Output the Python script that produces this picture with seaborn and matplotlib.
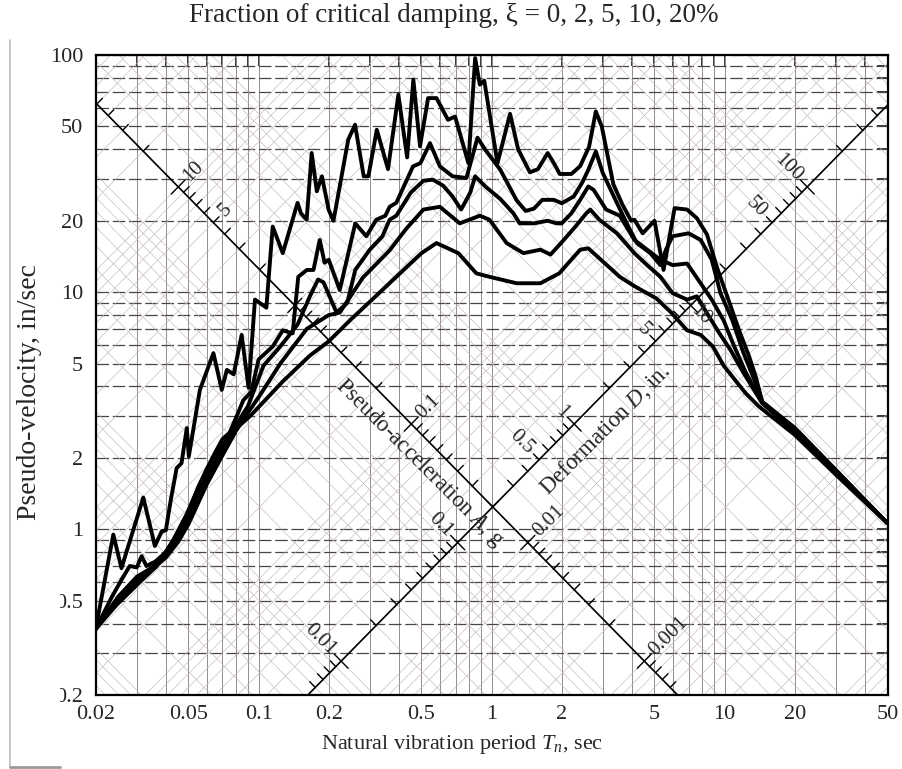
import numpy as np
import pandas as pd
import matplotlib
matplotlib.use("Agg")
import matplotlib.pyplot as plt
import seaborn as sns
from matplotlib.ticker import NullFormatter
from matplotlib.patches import Rectangle
from matplotlib.lines import Line2D

# ---------------- data ----------------
T0 = [0.020, 0.0238, 0.0258, 0.032, 0.0359, 0.0384, 0.040, 0.042, 0.0445, 0.0467, 0.0492, 0.0502,
      0.056, 0.064, 0.0695, 0.0731, 0.0782, 0.0846, 0.0906, 0.0965, 0.108, 0.115, 0.127, 0.147,
      0.152, 0.1608, 0.169, 0.1778, 0.187, 0.200, 0.2096, 0.2426, 0.2594, 0.2826, 0.296, 0.3216,
      0.3593, 0.398, 0.434, 0.4615, 0.493, 0.534, 0.580, 0.650, 0.697, 0.795, 0.850, 0.890, 0.930,
      1.06, 1.20, 1.30, 1.46, 1.58, 1.74, 1.85, 1.96, 2.20, 2.40, 2.62, 2.80, 2.97, 3.33, 3.65,
      3.97, 4.10, 4.45, 5.00, 5.47, 6.10, 6.90, 7.60, 8.40, 9.30, 10.5, 11.6, 12.7, 13.6, 14.5,
      20.0, 30.0, 50.0]
V0 = [0.38, 0.95, 0.685, 1.36, 0.85, 0.98, 0.99, 1.33, 1.81, 1.90, 2.67, 2.03,
      3.87, 5.53, 3.87, 4.70, 4.50, 6.60, 3.95, 9.30, 8.60, 18.9, 14.6, 23.8,
      21.5, 20.2, 38.6, 26.6, 30.8, 22.2, 20.0, 44.0, 50.8, 30.8, 30.8, 48.4,
      33.0, 68.0, 37.0, 78.7, 41.2, 65.8, 65.8, 53.3, 55.0, 35.0, 97.0, 75.0, 78.0,
      35.0, 56.5, 40.0, 32.0, 33.0, 38.6, 35.0, 31.5, 31.5, 34.0, 41.0, 57.8, 50.0, 28.5, 23.3,
      20.0, 20.2, 17.7, 20.0, 12.4, 22.6, 22.3, 20.5, 17.5, 12.6, 9.0, 6.8, 5.4, 4.4, 3.45,
      2.68, 1.78, 1.06]

T2 = [0.020, 0.0235, 0.026, 0.028, 0.030, 0.0315, 0.033, 0.036, 0.040, 0.045, 0.050, 0.055, 0.060,
      0.065, 0.070, 0.075, 0.080, 0.086, 0.093, 0.100, 0.115, 0.127, 0.140, 0.148, 0.161, 0.172,
      0.183, 0.192, 0.200, 0.223, 0.260, 0.290, 0.320, 0.350, 0.365, 0.390, 0.420, 0.460, 0.495,
      0.544, 0.600, 0.680, 0.780, 0.870, 0.940, 1.09, 1.28, 1.40, 1.52, 1.65, 1.85, 2.00, 2.25,
      2.45, 2.60, 2.80, 3.00, 3.40, 3.80, 4.20, 4.80, 5.30, 5.60, 5.98, 7.00, 7.90, 8.80,
      9.60, 10.8, 12.0, 13.5, 14.5, 20.0, 30.0, 50.0]
V2 = [0.38, 0.52, 0.62, 0.70, 0.69, 0.77, 0.70, 0.73, 0.80, 0.96, 1.18, 1.50, 1.80,
      2.10, 2.40, 2.55, 2.95, 3.50, 3.80, 5.20, 5.90, 6.90, 6.70, 11.6, 12.4, 12.4,
      16.6, 13.3, 13.7, 10.2, 19.5, 17.2, 20.2, 21.0, 22.9, 23.8, 27.9, 33.9, 35.0,
      42.5, 33.9, 30.8, 30.3, 44.8, 39.8, 32.8, 24.4, 22.0, 22.5, 24.5, 24.5, 23.7, 25.3,
      29.0, 32.8, 39.2, 31.8, 24.5, 19.5, 16.1, 14.6, 13.0, 15.1, 17.2, 17.7, 16.6, 13.7,
      9.9, 7.6, 5.6, 4.2, 3.45, 2.65, 1.77, 1.06]

T5 = [0.020, 0.025, 0.030, 0.035, 0.040, 0.045, 0.050, 0.055, 0.060, 0.070, 0.080, 0.090, 0.105,
      0.124, 0.147, 0.166, 0.180, 0.190, 0.216, 0.240, 0.260, 0.300, 0.340, 0.365, 0.390, 0.450,
      0.510, 0.560, 0.620, 0.680, 0.740, 0.810, 0.850, 0.940, 1.09, 1.24, 1.32, 1.52, 1.74, 1.90,
      2.00, 2.20, 2.40, 2.60, 2.74, 3.10, 3.55, 4.10, 4.65, 5.30, 5.98, 6.90, 7.60, 8.80, 9.90,
      11.0, 12.3, 14.5, 20.0, 30.0, 50.0]
V5 = [0.38, 0.52, 0.63, 0.69, 0.78, 0.92, 1.12, 1.40, 1.65, 2.20, 2.75, 3.30, 4.90,
      5.90, 7.30, 9.60, 11.3, 11.0, 8.2, 9.0, 12.4, 15.1, 17.2, 20.2, 21.0, 26.3,
      29.5, 29.8, 28.1, 25.3, 22.3, 26.3, 30.8, 27.9, 24.7, 21.5, 19.5, 19.5, 20.0, 19.5,
      19.5, 21.5, 24.5, 27.9, 27.0, 22.3, 21.0, 16.6, 15.1, 13.7, 13.0, 13.2, 11.5, 9.3, 7.6,
      5.9, 4.6, 3.42, 2.60, 1.75, 1.06]

T10 = [0.020, 0.025, 0.030, 0.035, 0.040, 0.045, 0.050, 0.060, 0.070, 0.080, 0.090, 0.100, 0.124,
       0.161, 0.200, 0.223, 0.280, 0.365, 0.430, 0.510, 0.600, 0.730, 0.890, 0.980, 1.16, 1.37,
       1.62, 1.79, 2.03, 2.30, 2.55, 2.65, 2.90, 3.45, 4.10, 4.65, 5.30, 5.98, 6.90, 7.60, 8.40,
       9.50, 10.6, 12.0, 14.5, 20.0, 30.0, 50.0]
V10 = [0.38, 0.50, 0.61, 0.68, 0.76, 0.88, 1.05, 1.55, 2.05, 2.60, 3.10, 3.60, 5.00,
       7.00, 8.00, 8.20, 11.5, 15.0, 18.5, 22.3, 22.9, 19.5, 21.0, 20.2, 16.1, 14.6,
       15.1, 14.4, 16.5, 19.0, 21.5, 22.3, 20.2, 17.7, 14.6, 13.0, 11.6, 9.9, 9.3, 9.6, 8.15,
       6.7, 5.7, 4.6, 3.4, 2.58, 1.74, 1.06]

T20 = [0.020, 0.0246, 0.031, 0.0366, 0.043, 0.049, 0.056, 0.064, 0.078, 0.092, 0.127, 0.166, 0.200,
       0.250, 0.300, 0.390, 0.500, 0.580, 0.720, 0.860, 0.980, 1.28, 1.62, 1.95, 2.40, 2.60,
       2.85, 3.55, 4.10, 5.10, 5.90, 6.90, 7.90, 8.90, 9.90, 11.0, 12.3, 14.0, 20.0, 30.0, 50.0]
V20 = [0.38, 0.48, 0.60, 0.70, 0.90, 1.15, 1.55, 2.00, 2.60, 3.00, 4.20, 5.40, 6.20,
       7.70, 9.10, 11.6, 14.6, 16.1, 14.6, 12.0, 11.6, 10.9, 10.9, 12.0, 15.1, 15.3,
       14.1, 11.6, 10.6, 9.4, 8.2, 6.9, 6.6, 5.9, 4.9, 4.3, 3.75, 3.3, 2.5, 1.7, 1.06]

damping = ["0%", "2%", "5%", "10%", "20%"]

x_tick_vals = [0.02, 0.05, 0.1, 0.2, 0.5, 1, 2, 5, 10, 20, 50]
x_tick_labels = ["0.02", "0.05", "0.1", "0.2", "0.5", "1", "2", "5", "10", "20", "50"]
y_tick_vals = [0.2, 0.5, 1, 2, 5, 10, 20, 50, 100]
y_tick_labels = ["0.2", "0.5", "1", "2", "5", "10", "20", "50", "100"]

A_axis_D = 0.2        # in. : the acceleration scale is drawn along this D line
D_axis_A = 0.02       # g   : the deformation scale is drawn along this A line
A_labels = [10, 5, 0.1, 0.01, 0.001]
A_label_text = ["10", "5", "0.1", "0.01", "0.001"]
D_labels = [0.01, 0.1, 0.5, 1, 5, 10, 50, 100]
D_label_text = ["0.01", "0.1", "0.5", "1", "5", "10", "50", "100"]

title = "Fraction of critical damping, \u03be = 0, 2, 5, 10, 20%"
xlabel = "Natural vibration period $T_n$, sec"
ylabel = "Pseudo-velocity, in/sec"
A_title = "Pseudo-acceleration $A$, g"
D_title = "Deformation $D$, in."

G = 386.09
TWO_PI = 2 * np.pi

# ---------------- style ----------------
sns.set_theme(style="white")
plt.rcParams['font.family'] = ['Liberation Serif', 'DejaVu Serif']
plt.rcParams['mathtext.fontset'] = 'custom'
plt.rcParams['mathtext.rm'] = 'Liberation Serif'
plt.rcParams['mathtext.it'] = 'Liberation Serif:italic'

W, H = 903, 769
fig = plt.figure(figsize=(W / 100, H / 100), dpi=100)
ax = fig.add_axes([95.7 / W, 1 - 695 / H, (887.5 - 95.7) / W, (695 - 55) / H])
ax.set_xscale('log')
ax.set_yscale('log')
ax.set_xlim(0.02, 50)
ax.set_ylim(0.2, 100)

grid_T = [m * 10.0 ** k for k in (-2, -1, 0, 1) for m in range(1, 10)]
grid_T = [t for t in grid_T if 0.0199 < t < 50.1]
grid_V = [m * 10.0 ** k for k in (-1, 0, 1, 2) for m in range(1, 10)]
grid_V = [v for v in grid_V if 0.199 < v < 100.1]

for t in grid_T:
    ax.axvline(t, color='#958b8b', lw=0.7, zorder=1)
for v in grid_V:
    ax.axhline(v, color='#4a4444', lw=0.9, ls=(0, (10, 3)), zorder=1)

Tl = np.array([0.02, 50.0])
diag_vals = [m * 10.0 ** k for k in range(-5, 4) for m in range(1, 10)]
for a in diag_vals:
    ax.plot(Tl, a * G * Tl / TWO_PI, color='#c2b8b8', lw=0.45, zorder=1)
for d in diag_vals:
    ax.plot(Tl, TWO_PI * d / Tl, color='#c2b8b8', lw=0.45, zorder=1)

# ---------------- spectra ----------------
frames = []
for name, T, V in zip(damping, [T0, T2, T5, T10, T20], [V0, V2, V5, V10, V20]):
    frames.append(pd.DataFrame({"T": T, "V": V, "xi": name}))
df = pd.concat(frames, ignore_index=True)
n_before = len(ax.lines)
sns.lineplot(data=df, x="T", y="V", units="xi", estimator=None, color="black",
             linewidth=2.8, sort=False, ax=ax, legend=False, zorder=5)
for ln in ax.lines[n_before:]:
    ln.set_solid_joinstyle('round')
    ln.set_solid_capstyle('round')
ax.set_xlabel("")
ax.set_ylabel("")

# ---------------- tripartite axes ----------------
Tf = np.geomspace(0.02, 50, 50)
ax.plot(Tf, TWO_PI * A_axis_D / Tf, color='black', lw=1.2, zorder=4)
ax.plot(Tf, D_axis_A * G * Tf / TWO_PI, color='black', lw=1.2, zorder=4)

def inside(t, v):
    return 0.02 <= t <= 50 and 0.2 <= v <= 100

tick_vals = [m * 10.0 ** k for k in range(-5, 4) for m in range(1, 10)]
kmin, kmaj = 0.024, 0.03
# acceleration scale (ticks up-right)
for a in tick_vals:
    t = TWO_PI * np.sqrt(A_axis_D / (a * G))
    v = TWO_PI * A_axis_D / t
    if not inside(t, v):
        continue
    is_dec = abs(np.log10(a) - round(np.log10(a))) < 1e-9
    k0 = -kmaj if is_dec else 0.0
    k1 = kmaj if is_dec else kmin
    ax.plot([t * 10 ** k0, t * 10 ** k1], [v * 10 ** k0, v * 10 ** k1], color='black', lw=1.0, zorder=4)
# deformation scale (ticks up-left)
for d in tick_vals:
    t = TWO_PI * np.sqrt(d / (D_axis_A * G))
    v = TWO_PI * d / t
    if not inside(t, v):
        continue
    is_dec = abs(np.log10(d) - round(np.log10(d))) < 1e-9
    k0 = -kmaj if is_dec else 0.0
    k1 = kmaj if is_dec else kmin
    ax.plot([t * 10 ** -k0, t * 10 ** -k1], [v * 10 ** k0, v * 10 ** k1], color='black', lw=1.0, zorder=4)

lab_k = 0.035
for a, s in zip(A_labels, A_label_text):
    t = TWO_PI * np.sqrt(A_axis_D / (a * G))
    v = TWO_PI * A_axis_D / t
    ax.text(t * 10 ** lab_k, v * 10 ** lab_k, s, rotation=45, rotation_mode='anchor',
            ha='left', va='center', fontsize=15, zorder=6)
for d, s in zip(D_labels, D_label_text):
    t = TWO_PI * np.sqrt(d / (D_axis_A * G))
    v = TWO_PI * d / t
    if s == "10":
        ax.text(t * 10 ** 0.012, v * 10 ** -0.012, s, rotation=-45, rotation_mode='anchor',
                ha='left', va='center', fontsize=15, zorder=6)
    else:
        ax.text(t * 10 ** -lab_k, v * 10 ** lab_k, s, rotation=-45, rotation_mode='anchor',
                ha='right', va='center', fontsize=15, zorder=6)

ax.text(0.49, 1.9, A_title, rotation=-45, rotation_mode='anchor', ha='center', va='center',
        fontsize=16.5, zorder=6)
ax.text(3.07, 2.63, D_title, rotation=45, rotation_mode='anchor', ha='center', va='center',
        fontsize=16.5, zorder=6)

# ---------------- ticks / spines ----------------
ax.set_xticks(x_tick_vals, labels=x_tick_labels)
ax.set_xticks([t for t in grid_T if t not in x_tick_vals], minor=True)
ax.set_yticks(y_tick_vals, labels=y_tick_labels)
ax.set_yticks([v for v in grid_V if v not in y_tick_vals], minor=True)
ax.xaxis.set_minor_formatter(NullFormatter())
ax.yaxis.set_minor_formatter(NullFormatter())
ax.tick_params(which='both', direction='in', top=True, right=True, length=8, width=1.1,
               color='black', labelsize=16, pad=7)
ax.tick_params(axis='y', which='both', pad=9)
for sp in ax.spines.values():
    sp.set_visible(True)
    sp.set_color('black')
    sp.set_linewidth(1.6)
ax.grid(False)

fig.text(454 / W, 1 - 16 / H, title, ha='center', va='center', fontsize=19.5)
fig.text(462 / W, 1 - 745 / H, xlabel, ha='center', va='center', fontsize=16)

# scanned-page edge on the left
fig.patches.append(Rectangle((10 / W, 1 - 767 / H), 50 / W, (767 - 560) / H, transform=fig.transFigure,
                             facecolor='white', edgecolor='none', zorder=10))
fig.lines.append(Line2D([10 / W, 10 / W], [1 - 767 / H, 1 - 40 / H], transform=fig.transFigure,
                        color='#bdbdbd', lw=1.2, zorder=11))
fig.lines.append(Line2D([10 / W, 60 / W], [1 - 767 / H, 1 - 767 / H], transform=fig.transFigure,
                        color='#9a9a9a', lw=2.0, zorder=11))
fig.text(30 / W, 1 - 392 / H, ylabel, rotation=90, ha='center', va='center', fontsize=20, zorder=12)

fig.savefig("out.png", dpi=100)
